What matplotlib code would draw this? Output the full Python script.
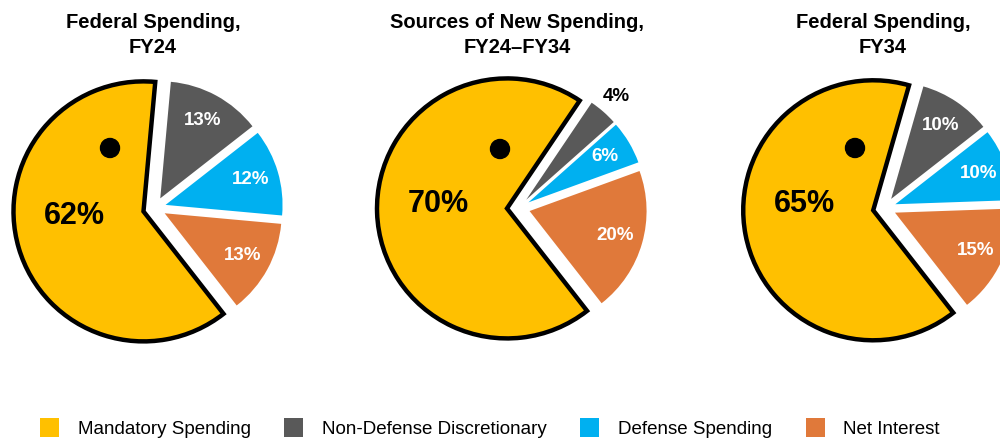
import matplotlib.pyplot as plt
from matplotlib.patches import Circle, Patch

# data, in legend order
categories = ['Mandatory Spending', 'Non-Defense Discretionary', 'Defense Spending', 'Net Interest']
titles = ['Federal Spending,\nFY24', 'Sources of New Spending,\nFY24\u2013FY34', 'Federal Spending,\nFY34']
fy24 = [62, 13, 12, 13]
new_spending = [70, 4, 6, 20]
fy34 = [65, 10, 10, 15]
colors = ['#FFC000', '#595959', '#00B0F0', '#E0793A']

plt.rcParams['font.family'] = ['Liberation Sans', 'DejaVu Sans']

fig = plt.figure(figsize=(10, 4.45), dpi=100)
ax = fig.add_axes([0, 0, 1, 1])

# layout in pixel units
centers = [155, 519, 885]
cy = 237
R = 117
R_big = 130
dot_offsets = [(-45, 60), (-19, 59), (-30, 60)]
big_label_offsets = [(-81, -8), (-81, 4), (-81, 4)]

order = [3, 2, 1, 0]  # counter-clockwise from the bottom right: interest, defense, non-defense, mandatory
for data, title, cx, dot, lab in zip([fy24, new_spending, fy34], titles, centers,
                                     dot_offsets, big_label_offsets):
    wedges, _, autotexts = ax.pie(
        [data[i] for i in order], colors=[colors[i] for i in order],
        startangle=-52, counterclock=True, radius=R, center=(cx, cy),
        explode=[11, 11, 11, 12], autopct='%.0f%%', pctdistance=0.76,
        frame=True, wedgeprops=dict(linewidth=0),
        textprops=dict(color='white', fontsize=13.5, fontweight='bold'))

    big = wedges[3]
    big.set_radius(R_big)
    big.set_edgecolor('black')
    big.set_linewidth(3.2)
    big.set_joinstyle('miter')

    big_txt = autotexts[3]
    big_txt.set_position((cx + lab[0], cy + lab[1]))
    big_txt.set_color('black')
    big_txt.set_fontsize(22)

    # tiny slices get their label outside
    for w, t, i in zip(wedges[:3], autotexts[:3], order[:3]):
        if data[i] < 5:
            wx, wy = w.center
            tx, ty = t.get_position()
            k = 1.17 / 0.76
            t.set_position((wx + (tx - wx) * k, wy + (ty - wy) * k))
            t.set_color('black')

    ax.add_patch(Circle((cx + dot[0], cy + dot[1]), 9.5, color='black', zorder=5))
    ax.text(cx - 2, 445 - 35, title, ha='center', va='center', fontsize=14.5,
            fontweight='bold', linespacing=1.4)

ax.set_xlim(0, 1000)
ax.set_ylim(0, 445)
ax.set_aspect('equal')
ax.axis('off')

handles = [Patch(facecolor=c, edgecolor='none') for c in colors]
fig.legend(handles, categories, loc='center', bbox_to_anchor=(0.49, 0.038), ncol=4,
           frameon=False, fontsize=13.5, handlelength=1.0, handleheight=1.2,
           columnspacing=1.8, handletextpad=1.0)

fig.savefig('out.png', dpi=100)
